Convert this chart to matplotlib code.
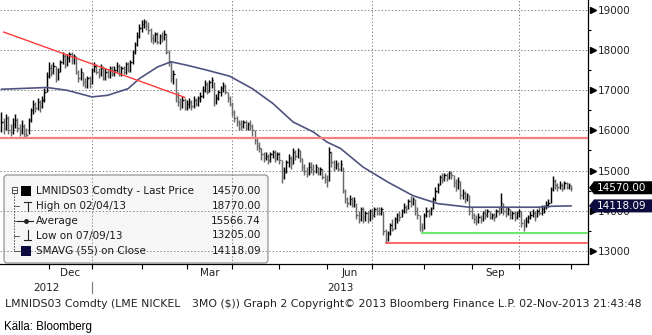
import numpy as np
import pandas as pd
import matplotlib
matplotlib.use("Agg")
import matplotlib.pyplot as plt
import matplotlib.transforms as mtransforms
from matplotlib.patches import FancyBboxPatch, Polygon, Rectangle
from matplotlib.lines import Line2D

W, H = 652, 335
plt.rcParams["font.family"] = ["DejaVu Sans"]

# daily bars, LME nickel 3M, 02-Nov-2012 .. 01-Nov-2013
close = [
    16200, 16050, 16300, 16000, 15950, 16150, 16250, 16050, 15950, 16100,
    15900, 15880, 16250, 16500, 16650, 16550, 16700, 16600, 16750, 16950,
    17350, 17550, 17450, 17600, 17300, 17450, 17700, 17850, 17650, 17800,
    17900, 17750, 17850, 17450, 17300, 17450, 17200, 17100, 17300, 17150,
    17500, 17600, 17450, 17400, 17550, 17300, 17450, 17350, 17550, 17400,
    17500, 17600, 17400, 17550, 17450, 17650, 17500, 17700, 17950, 18150,
    18350, 18550, 18650, 18700, 18600, 18500, 18300, 18250, 18400, 18200,
    18350, 18300, 18400, 17950, 17700, 17300, 17400, 16850, 16700, 16600,
    16750, 16550, 16650, 16700, 16600, 16750, 16650, 16800, 16850, 17000,
    17150, 16950, 17200, 17250, 16700, 16800, 16950, 17050, 17100, 16950,
    16800, 16650, 16450, 16300, 16200, 16150, 16100, 16200, 16050, 16150,
    16100, 16000, 15750, 15600, 15550, 15400, 15300, 15350, 15250, 15400,
    15450, 15300, 15400, 15250, 14850, 15000, 15200, 15300, 15150, 15450,
    15350, 15500, 15300, 15100, 15000, 14950, 15100, 15050, 15000, 15100,
    14950, 15050, 14850, 14800, 14750, 15450, 15200, 15100, 15150, 15050,
    15150, 14500, 14300, 14200, 14300, 14150, 14250, 13900, 13800, 14050,
    13850, 13950, 13800, 14000, 13900, 14050, 14000, 13950, 14050, 13500,
    13300, 13450, 13650, 13550, 13800, 13900, 13850, 14000, 14100, 14050,
    14250, 14200, 14300, 14000, 13900, 13600, 13550, 13900, 14000, 13950,
    14050, 14300, 14500, 14650, 14850, 14800, 14900, 14850, 14950, 14900,
    14700, 14600, 14750, 14400, 14450, 14300, 14400, 14000, 13900, 13800,
    13750, 13850, 13800, 13950, 13900, 14000, 13850, 13900, 13850, 14000,
    13950, 14200, 14000, 13950, 14050, 13900, 13950, 13850, 13950, 14000,
    13700, 13650, 13750, 13850, 13900, 13950, 13850, 14000, 13950, 14050,
    14100, 14150, 14200, 14550, 14750, 14650, 14600, 14650, 14550, 14700,
    14600, 14650, 14570,
]
high = [
    16450, 16300, 16400, 16350, 16150, 16300, 16400, 16300, 16150, 16250,
    16150, 16050, 16300, 16550, 16750, 16700, 16800, 16750, 16850, 17050,
    17450, 17700, 17650, 17700, 17600, 17550, 17750, 17950, 17900, 17900,
    17950, 17950, 17900, 17850, 17500, 17550, 17450, 17300, 17350, 17350,
    17550, 17700, 17650, 17550, 17650, 17600, 17550, 17500, 17600, 17600,
    17600, 17700, 17650, 17600, 17600, 17700, 17700, 17750, 18000, 18200,
    18450, 18650, 18750, 18770, 18750, 18700, 18550, 18400, 18450, 18450,
    18400, 18450, 18500, 18400, 18000, 17700, 17500, 17300, 16950, 16800,
    16850, 16800, 16750, 16800, 16750, 16850, 16800, 16850, 16950, 17100,
    17250, 17200, 17250, 17330, 17200, 16900, 17000, 17100, 17200, 17150,
    16950, 16850, 16700, 16500, 16350, 16250, 16250, 16250, 16250, 16200,
    16250, 16150, 16000, 15800, 15700, 15550, 15450, 15450, 15400, 15450,
    15500, 15500, 15450, 15450, 15250, 15100, 15250, 15400, 15350, 15550,
    15500, 15550, 15500, 15300, 15150, 15100, 15200, 15200, 15150, 15150,
    15100, 15100, 15050, 14950, 14900, 15575, 15450, 15250, 15250, 15200,
    15250, 15100, 14550, 14350, 14400, 14350, 14350, 14200, 14000, 14100,
    14100, 14000, 14000, 14050, 14050, 14100, 14100, 14100, 14100, 14000,
    13550, 13500, 13700, 13800, 13850, 13950, 14000, 14050, 14200, 14150,
    14300, 14375, 14350, 14300, 14100, 13900, 13700, 13950, 14100, 14050,
    14100, 14350, 14600, 14700, 14900, 14950, 14950, 14950, 15000, 15000,
    14900, 14800, 14850, 14750, 14550, 14500, 14450, 14400, 14100, 13950,
    13900, 13950, 13900, 14000, 14050, 14050, 14000, 13950, 13950, 14050,
    14100, 14450, 14200, 14100, 14100, 14050, 14000, 14000, 14000, 14050,
    14000, 13800, 13850, 13900, 14000, 14050, 14000, 14050, 14100, 14150,
    14150, 14250, 14300, 14600, 14875, 14800, 14700, 14750, 14700, 14750,
    14720, 14700, 14650,
]
low = [
    15950, 15900, 16000, 15900, 15850, 15900, 16050, 15950, 15850, 15900,
    15830, 15830, 15900, 16200, 16400, 16450, 16500, 16450, 16550, 16700,
    16950, 17300, 17350, 17400, 17200, 17250, 17450, 17650, 17550, 17600,
    17700, 17650, 17650, 17400, 17200, 17250, 17100, 17050, 17050, 17050,
    17150, 17450, 17400, 17300, 17350, 17250, 17250, 17300, 17300, 17350,
    17350, 17450, 17350, 17350, 17400, 17400, 17450, 17450, 17650, 17900,
    18100, 18300, 18450, 18550, 18500, 18400, 18200, 18150, 18200, 18150,
    18150, 18200, 18250, 17900, 17600, 17200, 17150, 16700, 16600, 16500,
    16550, 16500, 16500, 16550, 16500, 16550, 16600, 16600, 16700, 16800,
    16950, 16900, 16950, 17050, 16600, 16650, 16750, 16850, 16950, 16900,
    16700, 16600, 16350, 16200, 16100, 16000, 16000, 16050, 16000, 16000,
    16000, 15850, 15650, 15500, 15450, 15250, 15200, 15250, 15150, 15200,
    15300, 15200, 15250, 15150, 14700, 14800, 14950, 15100, 15050, 15150,
    15250, 15300, 15200, 15000, 14900, 14850, 14900, 14950, 14900, 14950,
    14900, 14900, 14800, 14700, 14600, 14750, 15100, 15000, 15050, 15000,
    15000, 14450, 14200, 14100, 14150, 14100, 14100, 13800, 13700, 13750,
    13700, 13750, 13700, 13750, 13800, 13850, 13900, 13900, 13900, 13400,
    13205, 13250, 13400, 13500, 13550, 13700, 13750, 13850, 13950, 13950,
    14050, 14100, 14150, 13900, 13800, 13500, 13450, 13550, 13850, 13850,
    13900, 14050, 14250, 14450, 14650, 14700, 14750, 14750, 14800, 14800,
    14600, 14500, 14550, 14300, 14300, 14200, 14250, 13900, 13800, 13700,
    13650, 13700, 13700, 13750, 13800, 13850, 13800, 13800, 13750, 13850,
    13900, 13950, 13900, 13850, 13900, 13800, 13800, 13750, 13800, 13850,
    13600, 13500, 13600, 13700, 13800, 13850, 13750, 13850, 13900, 13900,
    13950, 14050, 14100, 14200, 14500, 14550, 14500, 14550, 14500, 14550,
    14550, 14550, 14500,
]

# 55-day simple moving average, sampled along the curve (bar index, value)
sma_idx = [0, 20, 29, 40, 47, 56, 61, 69, 75, 82, 91, 101, 111, 120,
           129, 138, 144, 150, 160, 171, 182, 193, 207, 222, 237, 244, 252]
sma_val = [17025, 17070, 17000, 16835, 16875, 17040, 17290, 17580, 17710,
           17625, 17500, 17350, 17040, 16675, 16210, 15960, 15710, 15550,
           15085, 14710, 14375, 14175, 14085, 14085, 14085, 14110, 14118.09]
avg_price = 15566.74

# lines drawn on the chart by the analyst
trend_idx = [1, 81]
trend_val = [18450, 16825]
resist_level = 15800
low_level, low_start = 13205, 170
green_level, green_start = 13450, 186

legend_names = ["LMNIDS03 Comdty - Last Price", "High on 02/04/13", "Average",
                "Low on 07/09/13", "SMAVG (55) on Close"]

holidays = pd.to_datetime(["2012-12-25", "2012-12-26", "2013-01-01", "2013-03-29",
                           "2013-04-01", "2013-05-06", "2013-05-27", "2013-08-26"])
days = pd.bdate_range("2012-11-02", "2013-11-01")
days = days[~days.isin(holidays)]
month_idx = list(days.searchsorted(pd.date_range("2012-12-01", "2013-11-01", freq="MS")))

x = np.arange(len(close))
close_a = np.array(close)

fig = plt.figure(figsize=(W / 100, H / 100), dpi=100)
ax = fig.add_axes([0, (H - 264) / H, 588 / W, 264 / H])
pix = mtransforms.Affine2D().scale(1 / W, -1 / H).translate(0, 1) + fig.transFigure

up = np.r_[True, np.diff(close_a) >= 0]
cols = np.where(up, "#000000", "#6a6a6a")
ax.vlines(x, low, high, colors=cols, lw=1.05, zorder=3)
ax.hlines(close, x, x + 0.6, colors=cols, lw=1.0, zorder=3)

ax.plot(sma_idx, sma_val, color="#4f5380", lw=1.2, zorder=4)

ax.plot(trend_idx, trend_val, color="#ff3b3b", lw=1.0, zorder=4)
ax.axhline(resist_level, color="#f58080", lw=1.6, zorder=4)
xmax = 259.5
ax.plot([low_start, xmax], [low_level] * 2, color="#ff4040", lw=1.1, zorder=4)
ax.plot([green_start, xmax], [green_level] * 2, color="#6fe86f", lw=1.5, zorder=4)

yticks = list(range(13000, 19001, 1000))
for v in yticks:
    ax.axhline(v, color="#8a8a8a", lw=0.7, ls=(0, (1.5, 2)), zorder=1)
for m in [month_idx[1], month_idx[4], month_idx[7], month_idx[10]]:
    ax.axvline(m, color="#8a8a8a", lw=0.7, ls=(0, (1.5, 2)), zorder=1)

ax.set_xlim(-0.66, xmax)
ax.set_ylim(12670, 19250)

ax.yaxis.tick_right()
ax.set_yticks(yticks)
ax.set_yticks(list(range(13500, 19000, 1000)), minor=True)
ax.tick_params(axis="y", which="major", length=0, pad=7, labelsize=7.5, labelcolor="#222222")
ax.tick_params(axis="y", which="minor", length=2.5, width=0.8, color="k")
ax.set_xticks(month_idx)
ax.tick_params(axis="x", which="major", length=3.5, width=0.8, color="k", labelbottom=False)
for s in ["left", "top"]:
    ax.spines[s].set_visible(False)
for s in ["right", "bottom"]:
    ax.spines[s].set_linewidth(0.9)
    ax.spines[s].set_color("k")

bl = mtransforms.blended_transform_factory(ax.transAxes, ax.transData)
ax.plot(np.full(len(yticks), 1.0085), yticks, ls="none", marker=">", ms=4.5,
        color="k", transform=bl, clip_on=False)


def px(i, v=0):
    d = ax.transData.transform((i, v))
    return d[0], H - d[1]


# month and year labels
for k, name in [(0, "Dec"), (3, "Mar"), (6, "Jun"), (9, "Sep")]:
    cx = (px(month_idx[k])[0] + px(month_idx[k + 1])[0]) / 2
    fig.text(cx, 273, name, transform=pix, ha="center", va="center", fontsize=7.5, color="#222222")
jan_px = px(month_idx[1])[0]
fig.text(jan_px / 2, 288, "2012", transform=pix, ha="center", va="center", fontsize=7.5, color="#222222")
fig.text((jan_px + 588) / 2, 288, "2013", transform=pix, ha="center", va="center", fontsize=7.5, color="#222222")
fig.add_artist(Line2D([jan_px, jan_px], [282, 293], transform=pix, color="#777777", lw=0.8))

# price tags at the right
for val, fc in [(close[-1], "#000000"), (sma_val[-1], "#0b0b3d")]:
    yc = px(0, val)[1]
    fig.add_artist(Polygon([(589, yc), (594, yc - 6.5), (W, yc - 6.5), (W, yc + 6.5), (594, yc + 6.5)],
                           closed=True, transform=pix, fc=fc, ec="none", zorder=5))
    fig.text(597, yc, f"{val:.2f}", transform=pix, ha="left", va="center", fontsize=7.5,
             color="white", zorder=6)

# legend box
ax.add_patch(FancyBboxPatch((4, 175), 264, 88, boxstyle="round,pad=0,rounding_size=3",
                            transform=pix, fc="#f6f6f6", ec="#8a8a8a", lw=0.8, zorder=0.8))
row_y = [191, 206, 221, 235.5, 250.5]
values = [close[-1], max(high), avg_price, min(low), sma_val[-1]]
for yy, name, val in zip(row_y, legend_names, values):
    ax.text(36, yy, name, transform=pix, ha="left", va="center", fontsize=7.5, color="#1a1a1a", zorder=6)
    ax.text(261, yy, f"{val:.2f}", transform=pix, ha="right", va="center", fontsize=7.5,
            color="#1a1a1a", zorder=6)

ax.add_patch(Rectangle((11.5, 187), 5.5, 5.5, transform=pix, fc="white", ec="#333333", lw=0.6, zorder=6))
ax.plot([12.6, 15.9], [189.75, 189.75], transform=pix, color="#333333", lw=0.6, zorder=6)
ax.add_patch(Rectangle((21, 186), 10, 10, transform=pix, fc="black", ec="none", zorder=6))
ax.plot([14.2, 14.2], [193, 250.5], transform=pix, color="#444444", lw=0.6, ls=(0, (2, 1.5)), zorder=6)
for yy in row_y[1:4]:
    ax.plot([14.2, 18.5], [yy, yy], transform=pix, color="#444444", lw=0.6, zorder=6)
ax.plot([14.2, 20], [250.5, 250.5], transform=pix, color="#444444", lw=0.6, zorder=6)
ax.plot([24, 31], [201.5, 201.5], transform=pix, color="#222222", lw=0.8, zorder=6)
ax.plot([27.5, 27.5], [201.5, 211], transform=pix, color="#222222", lw=0.8, zorder=6)
ax.plot([17, 33], [221, 221], transform=pix, color="#222222", lw=0.8, zorder=6)
ax.plot([26], [221], transform=pix, marker="o", ms=2.5, color="#222222", zorder=6)
ax.plot([27.5, 27.5], [230, 240], transform=pix, color="#222222", lw=0.8, zorder=6)
ax.plot([24, 31], [240, 240], transform=pix, color="#222222", lw=0.8, zorder=6)
ax.add_patch(Rectangle((21, 245.5), 10, 10, transform=pix, fc="#0b0b3d", ec="none", zorder=6))

ax.set_xlim(-0.66, xmax)
ax.set_ylim(12670, 19250)

# footer
fig.text(5, 304, "LMNIDS03 Comdty (LME NICKEL", transform=pix, ha="left", va="center",
         fontsize=7.8, color="#222222")
fig.text(192, 304, "3MO ($)) Graph 2 Copyright\u00a9 2013 Bloomberg Finance L.P. 02-Nov-2013 21:43:48",
         transform=pix, ha="left", va="center", fontsize=7.8, color="#222222")
fig.text(4, 327, "Källa: Bloomberg", transform=pix, ha="left", va="center", fontsize=8.3,
         family=["Liberation Sans Narrow", "Liberation Sans"], color="black")

fig.savefig("out.png", dpi=100)
